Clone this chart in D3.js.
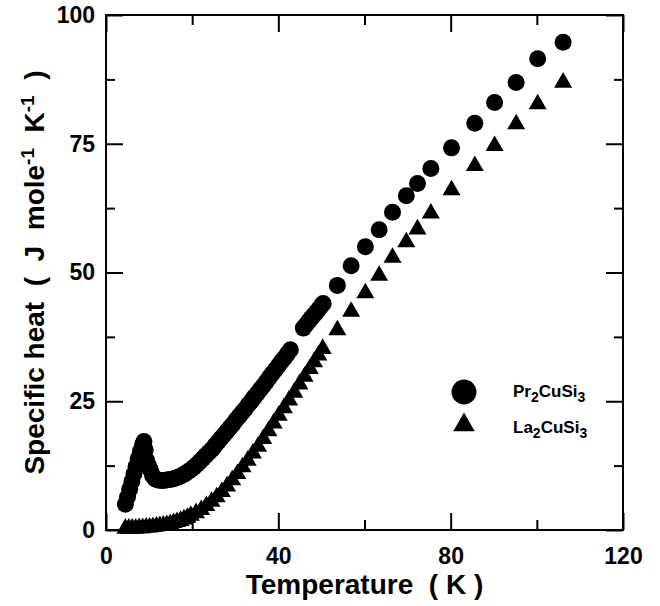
<!DOCTYPE html>
<html>
<head>
<meta charset="utf-8">
<script src="https://cdn.jsdelivr.net/npm/d3@7"></script>
<style>
  body { margin: 0; background: #fff; }
  text { font-family: "Liberation Sans", Arial, Helvetica, sans-serif; font-weight: bold; fill: #000; }
</style>
</head>
<body>
<svg width="660" height="606"></svg>
<script>
// Pr2CuSi3 (circles)
var prT = [4.5,5.0,5.5,6.0,6.5,7.0,7.5,8.0,8.5,8.8,9.1,9.4,9.8,10.3,10.8,11.4,12.0,12.7,13.4,14.1,14.8,15.5,16.2,16.9,17.6,18.3,19.0,19.7,20.4,21.1,21.8,22.5,23.2,23.9,24.6,25.3,26.0,26.7,27.4,28.1,28.8,29.5,30.2,30.9,31.6,32.3,33.0,33.7,34.4,35.1,35.8,36.5,37.2,37.9,38.6,39.3,40.0,40.7,41.4,42.1,42.8,
           45.8,46.4,47.0,47.6,48.2,48.8,49.4,50.0,50.4,
           53.7,56.9,60.2,63.4,66.5,69.7,72.3,75.4,80.2,85.6,90.2,95.2,100.2,106.1];
var prC = [5.0,6.4,7.9,9.4,10.9,12.4,13.9,15.3,16.6,17.2,15.6,13.6,12.6,11.7,10.6,9.9,9.7,9.6,9.6,9.7,9.8,9.9,10.1,10.3,10.6,10.9,11.3,11.7,12.2,12.7,13.3,13.9,14.5,15.1,15.7,16.4,17.1,17.8,18.5,19.2,19.9,20.6,21.4,22.1,22.8,23.5,24.3,25.0,25.8,26.5,27.3,28.0,28.8,29.6,30.4,31.1,31.9,32.7,33.4,34.2,35.0,
           39.2,39.8,40.5,41.1,41.7,42.3,42.9,43.6,44.0,
           47.5,51.3,55.0,58.3,61.7,64.9,67.3,70.2,74.2,79.0,83.0,86.9,91.5,94.7];

// La2CuSi3 (triangles)
var laT = [4.5,5.3,6.1,6.9,7.7,8.5,9.3,10.1,10.9,11.7,12.5,13.3,14.1,14.9,15.7,16.5,17.3,18.1,18.9,19.7,
           20.9,22.1,23.3,24.5,25.7,26.9,28.1,29.3,30.5,31.7,32.9,34.1,35.3,36.5,37.7,38.9,40.1,41.3,42.5,43.7,44.9,46.1,47.3,48.3,49.3,50.3,
           53.7,56.9,60.2,63.4,66.5,69.7,72.3,75.4,80.2,85.6,90.2,95.2,100.2,106.1];
var laC = [0.3,0.3,0.3,0.3,0.4,0.4,0.5,0.5,0.6,0.7,0.8,0.9,1.0,1.2,1.4,1.6,1.8,2.1,2.4,2.8,
           3.3,3.9,4.7,5.5,6.4,7.4,8.5,9.7,10.9,12.2,13.5,14.9,16.2,17.7,19.2,20.7,22.2,23.7,25.2,26.7,28.3,29.8,31.3,32.6,33.9,35.2,
           38.8,42.4,46.0,49.4,52.9,55.9,58.4,61.5,66.0,70.7,74.6,78.8,82.7,86.9];

var xMajor = [0, 40, 80, 120];
var xMinor = [20, 60, 100];
var yMajor = [0, 25, 50, 75, 100];
var yMinor = [12.5, 37.5, 62.5, 87.5];

var svg = d3.select("svg"),
    margin = {top: 15, right: 37, bottom: 76, left: 106},
    width = +svg.attr("width") - margin.left - margin.right,
    height = +svg.attr("height") - margin.top - margin.bottom;

var x = d3.scaleLinear().domain([0, 120]).range([0, width]);
var y = d3.scaleLinear().domain([0, 100]).range([height, 0]);

var g = svg.append("g")
    .attr("transform", "translate(" + margin.left + "," + margin.top + ")");

// data
var pr = prT.map(function(t, i) { return {t: t, c: prC[i]}; });
var la = laT.map(function(t, i) { return {t: t, c: laC[i]}; });

var tri = d3.symbol().type(d3.symbolTriangle).size(140);

g.append("g").selectAll("path")
    .data(la)
    .enter().append("path")
    .attr("d", tri)
    .attr("transform", function(d) { return "translate(" + x(d.t) + "," + y(d.c) + ")"; })
    .attr("fill", "#000");

g.append("g").selectAll("circle")
    .data(pr)
    .enter().append("circle")
    .attr("cx", function(d) { return x(d.t); })
    .attr("cy", function(d) { return y(d.c); })
    .attr("r", 8.5)
    .attr("fill", "#000");

// axes, ticks pointing inward on all four sides
function styleAxis(sel) {
    sel.select(".domain").remove();
    sel.selectAll("line").attr("stroke", "#000").attr("stroke-width", 2);
    sel.selectAll("text").style("font-size", "23px");
}

g.append("g").attr("transform", "translate(0," + height + ")")
    .call(d3.axisBottom(x).tickValues(xMajor).tickSize(-17).tickPadding(18).tickFormat(d3.format("d")))
    .call(styleAxis);
g.append("g").attr("transform", "translate(0," + height + ")")
    .call(d3.axisBottom(x).tickValues(xMinor).tickSize(-10).tickFormat(""))
    .call(styleAxis);
g.append("g")
    .call(d3.axisTop(x).tickValues(xMajor).tickSize(-17).tickFormat(""))
    .call(styleAxis);
g.append("g")
    .call(d3.axisTop(x).tickValues(xMinor).tickSize(-10).tickFormat(""))
    .call(styleAxis);

g.append("g")
    .call(d3.axisLeft(y).tickValues(yMajor).tickSize(-17).tickPadding(11).tickFormat(d3.format("d")))
    .call(styleAxis);
g.append("g")
    .call(d3.axisLeft(y).tickValues(yMinor).tickSize(-9).tickFormat(""))
    .call(styleAxis);
g.append("g").attr("transform", "translate(" + width + ",0)")
    .call(d3.axisRight(y).tickValues(yMajor).tickSize(-17).tickFormat(""))
    .call(styleAxis);
g.append("g").attr("transform", "translate(" + width + ",0)")
    .call(d3.axisRight(y).tickValues(yMinor).tickSize(-9).tickFormat(""))
    .call(styleAxis);

g.append("rect")
    .attr("width", width)
    .attr("height", height)
    .attr("fill", "none")
    .attr("stroke", "#000")
    .attr("stroke-width", 2);

// axis titles
svg.append("text")
    .attr("x", margin.left + width / 2)
    .attr("y", 594)
    .attr("text-anchor", "middle")
    .style("font-size", "28px")
    .style("white-space", "pre")
    .text("Temperature  ( K )");

var yt = svg.append("text")
    .attr("transform", "translate(44," + (margin.top + height / 2) + ") rotate(-90)")
    .attr("text-anchor", "middle")
    .style("font-size", "28px")
    .style("white-space", "pre");
yt.append("tspan").text("Specific heat  (  J  mole");
yt.append("tspan").attr("dy", -10).style("font-size", "19px").text("-1");
yt.append("tspan").attr("dy", 10).text("  K");
yt.append("tspan").attr("dy", -10).style("font-size", "19px").text("-1");
yt.append("tspan").attr("dy", 10).text("  )");

// legend
var legend = svg.append("g");
legend.append("circle").attr("cx", 464).attr("cy", 392).attr("r", 12.5).attr("fill", "#000");
legend.append("path")
    .attr("d", d3.symbol().type(d3.symbolTriangle).size(200))
    .attr("transform", "translate(464,425)")
    .attr("fill", "#000");

function formula(yPos, parts) {
    var t = legend.append("text").attr("x", 513).attr("y", yPos).style("font-size", "17px");
    parts.forEach(function(p) {
        var s = t.append("tspan").text(p[0]);
        if (p[1]) s.attr("dy", p[1]);
        if (p[2]) s.style("font-size", p[2]);
    });
}
formula(397, [["Pr"], ["2", 5, "14px"], ["CuSi", -5], ["3", 5, "14px"]]);
formula(433, [["La"], ["2", 5, "14px"], ["CuSi", -5], ["3", 5, "14px"]]);
</script>
</body>
</html>
